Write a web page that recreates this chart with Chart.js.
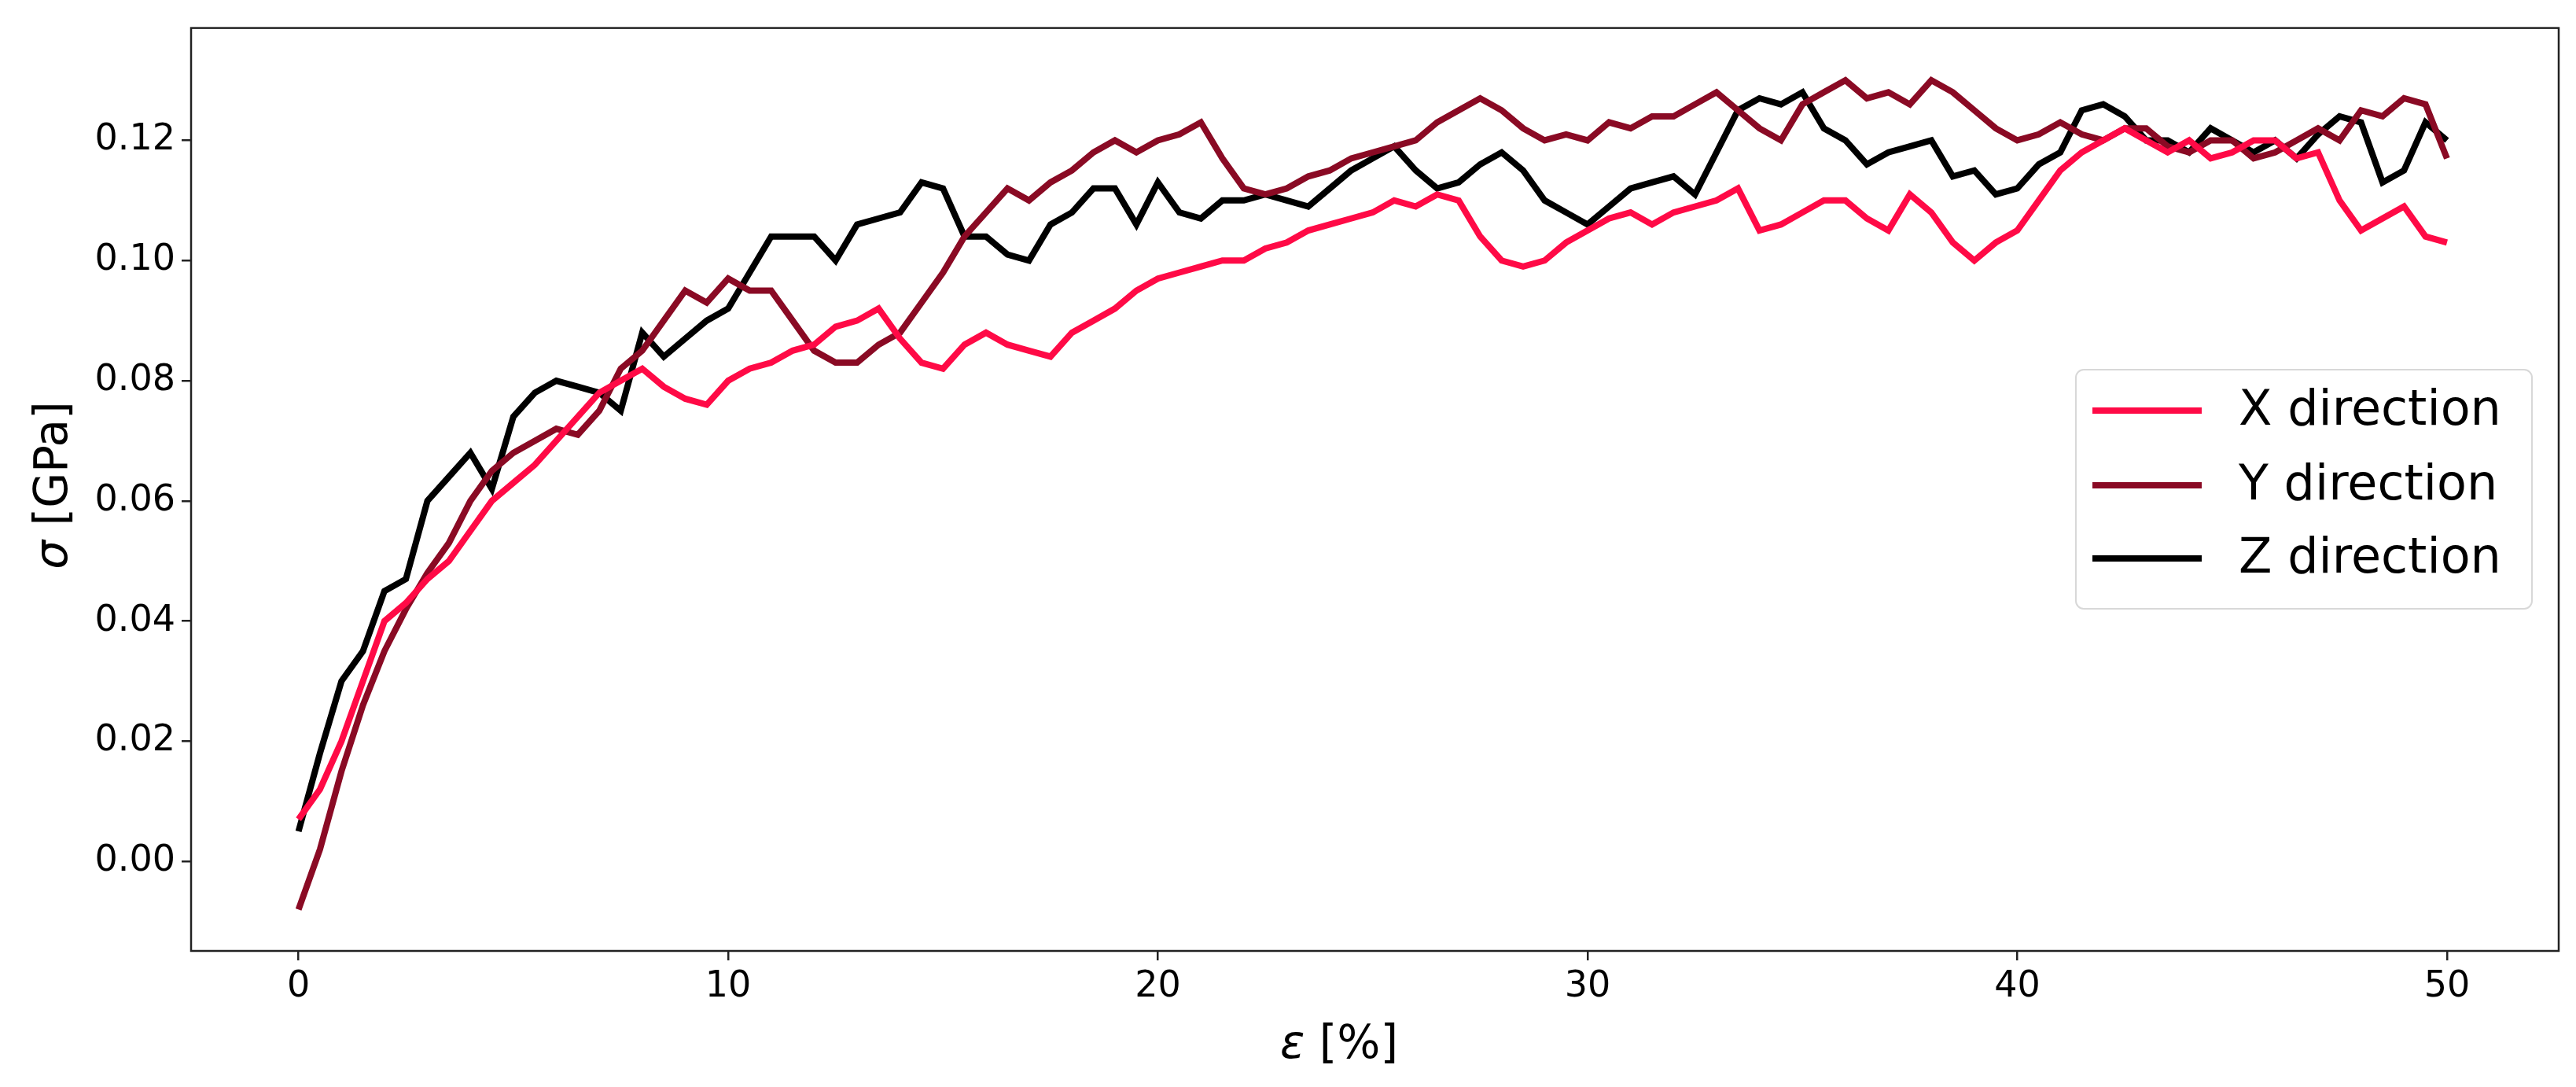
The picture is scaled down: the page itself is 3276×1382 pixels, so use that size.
<!DOCTYPE html>
<html>
<head>
<meta charset="utf-8">
<script src="https://cdn.jsdelivr.net/npm/chart.js@4/dist/chart.umd.min.js"></script>
<style>
  html, body { margin: 0; padding: 0; background: #fff; }
  #wrap { width: 3276px; height: 1382px; }
</style>
</head>
<body>
<div id="wrap"><canvas id="myChart" width="3276" height="1382"></canvas></div>
<script>
// strain in %, sampled every 0.5
const strainStep = 0.5;
const seriesNames = ['X direction', 'Y direction', 'Z direction'];
const seriesColors = ['#ff0a46', '#8a0a24', '#000000'];

const xDir = [0.007,0.012,0.02,0.03,0.04,0.043,0.047,0.05,0.055,0.06,0.063,0.066,0.07,0.074,0.078,0.08,0.082,0.079,0.077,0.076,
  0.08,0.082,0.083,0.085,0.086,0.089,0.09,0.092,0.087,0.083,0.082,0.086,0.088,0.086,0.085,0.084,0.088,0.09,0.092,0.095,
  0.097,0.098,0.099,0.1,0.1,0.102,0.103,0.105,0.106,0.107,0.108,0.11,0.109,0.111,0.11,0.104,0.1,0.099,0.1,0.103,
  0.105,0.107,0.108,0.106,0.108,0.109,0.11,0.112,0.105,0.106,0.108,0.11,0.11,0.107,0.105,0.111,0.108,0.103,0.1,0.103,
  0.105,0.11,0.115,0.118,0.12,0.122,0.12,0.118,0.12,0.117,0.118,0.12,0.12,0.117,0.118,0.11,0.105,0.107,0.109,0.104,0.103];
const yDir = [-0.008,0.002,0.015,0.026,0.035,0.042,0.048,0.053,0.06,0.065,0.068,0.07,0.072,0.071,0.075,0.082,0.085,0.09,0.095,0.093,
  0.097,0.095,0.095,0.09,0.085,0.083,0.083,0.086,0.088,0.093,0.098,0.104,0.108,0.112,0.11,0.113,0.115,0.118,0.12,0.118,
  0.12,0.121,0.123,0.117,0.112,0.111,0.112,0.114,0.115,0.117,0.118,0.119,0.12,0.123,0.125,0.127,0.125,0.122,0.12,0.121,
  0.12,0.123,0.122,0.124,0.124,0.126,0.128,0.125,0.122,0.12,0.126,0.128,0.13,0.127,0.128,0.126,0.13,0.128,0.125,0.122,
  0.12,0.121,0.123,0.121,0.12,0.122,0.122,0.119,0.118,0.12,0.12,0.117,0.118,0.12,0.122,0.12,0.125,0.124,0.127,0.126,0.117];
const zDir = [0.005,0.018,0.03,0.035,0.045,0.047,0.06,0.064,0.068,0.062,0.074,0.078,0.08,0.079,0.078,0.075,0.088,0.084,0.087,0.09,
  0.092,0.098,0.104,0.104,0.104,0.1,0.106,0.107,0.108,0.113,0.112,0.104,0.104,0.101,0.1,0.106,0.108,0.112,0.112,0.106,
  0.113,0.108,0.107,0.11,0.11,0.111,0.11,0.109,0.112,0.115,0.117,0.119,0.115,0.112,0.113,0.116,0.118,0.115,0.11,0.108,
  0.106,0.109,0.112,0.113,0.114,0.111,0.118,0.125,0.127,0.126,0.128,0.122,0.12,0.116,0.118,0.119,0.12,0.114,0.115,0.111,
  0.112,0.116,0.118,0.125,0.126,0.124,0.12,0.12,0.118,0.122,0.12,0.118,0.12,0.117,0.121,0.124,0.123,0.113,0.115,0.123,0.12];

const xTicks = [0, 10, 20, 30, 40, 50];
const yTicks = [0.00, 0.02, 0.04, 0.06, 0.08, 0.10, 0.12];

const allSeries = [xDir, yDir, zDir];
const ctx = document.getElementById('myChart');

const frameAndLegend = {
  id: 'frameAndLegend',
  afterDraw(chart) {
    const c = chart.ctx, a = chart.chartArea;
    c.save();
    c.strokeStyle = '#222';
    c.lineWidth = 2.5;
    c.strokeRect(a.left, a.top, a.right - a.left, a.bottom - a.top);

    // axis titles
    c.fillStyle = '#000';
    c.textBaseline = 'middle';
    c.save();
    c.translate(70, 617);
    c.rotate(-Math.PI / 2);
    c.textAlign = 'left';
    c.font = 'italic 58px "DejaVu Sans"';
    let w1 = c.measureText('σ').width;
    c.font = '58px "DejaVu Sans"';
    let w2 = c.measureText(' [GPa]').width;
    let sx = -(w1 + w2) / 2;
    c.font = 'italic 58px "DejaVu Sans"';
    c.fillText('σ', sx, 0);
    c.font = '58px "DejaVu Sans"';
    c.fillText(' [GPa]', sx + w1, 0);
    c.restore();

    c.font = 'italic 58px "DejaVu Sans"';
    w1 = c.measureText('ε').width;
    c.font = '58px "DejaVu Sans"';
    w2 = c.measureText(' [%]').width;
    sx = 1703 - (w1 + w2) / 2;
    c.textAlign = 'left';
    c.font = 'italic 58px "DejaVu Sans"';
    c.fillText('ε', sx, 1330);
    c.font = '58px "DejaVu Sans"';
    c.fillText(' [%]', sx + w1, 1330);

    // legend box
    const bx = 2640, by = 470, bw = 580, bh = 304, r = 10;
    c.beginPath();
    c.moveTo(bx + r, by);
    c.arcTo(bx + bw, by, bx + bw, by + bh, r);
    c.arcTo(bx + bw, by + bh, bx, by + bh, r);
    c.arcTo(bx, by + bh, bx, by, r);
    c.arcTo(bx, by, bx + bw, by, r);
    c.closePath();
    c.fillStyle = 'rgba(255,255,255,0.8)';
    c.fill();
    c.strokeStyle = '#d8d8d8';
    c.lineWidth = 2;
    c.stroke();
    const rows = [522, 617, 710];
    chart.data.datasets.forEach((ds, i) => {
      c.strokeStyle = ds.borderColor;
      c.lineWidth = 8;
      c.beginPath();
      c.moveTo(2661, rows[i]);
      c.lineTo(2800, rows[i]);
      c.stroke();
      c.fillStyle = '#000';
      c.font = '62px "DejaVu Sans"';
      c.textAlign = 'left';
      c.fillText(ds.label, 2847, rows[i] + 2);
    });
    c.restore();
  }
};

new Chart(ctx, {
  type: 'line',
  data: {
    datasets: allSeries.map((s, i) => ({
      label: seriesNames[i],
      data: s.map((v, k) => ({ x: k * strainStep, y: v })),
      borderColor: seriesColors[i],
      borderWidth: 8,
      pointRadius: 0,
      tension: 0,
      fill: false
    }))
  },
  options: {
    responsive: false,
    animation: false,
    devicePixelRatio: 1,
    layout: { padding: { top: 33, right: 22, left: 0, bottom: 0 } },
    plugins: { legend: { display: false }, tooltip: { enabled: false } },
    scales: {
      x: {
        type: 'linear',
        min: -2.5, max: 52.6,
        afterBuildTicks: ax => { ax.ticks = xTicks.map(v => ({ value: v })); },
        afterFit: ax => { ax.height = 173; },
        grid: { drawOnChartArea: false, drawTicks: true, tickLength: 12, color: '#222', lineWidth: 2.5 },
        border: { display: false },
        ticks: { color: '#000', font: { family: 'DejaVu Sans', size: 46 }, padding: 6, maxRotation: 0 }
      },
      y: {
        type: 'linear',
        min: -0.0149, max: 0.1387,
        afterBuildTicks: ax => { ax.ticks = yTicks.map(v => ({ value: v })); },
        afterFit: ax => { ax.width = 243; },
        grid: { drawOnChartArea: false, drawTicks: true, tickLength: 12, color: '#222', lineWidth: 2.5 },
        border: { display: false },
        ticks: { color: '#000', font: { family: 'DejaVu Sans', size: 46 }, padding: 8,
          callback: v => v.toFixed(2) }
      }
    }
  },
  plugins: [frameAndLegend]
});
</script>
</body>
</html>
